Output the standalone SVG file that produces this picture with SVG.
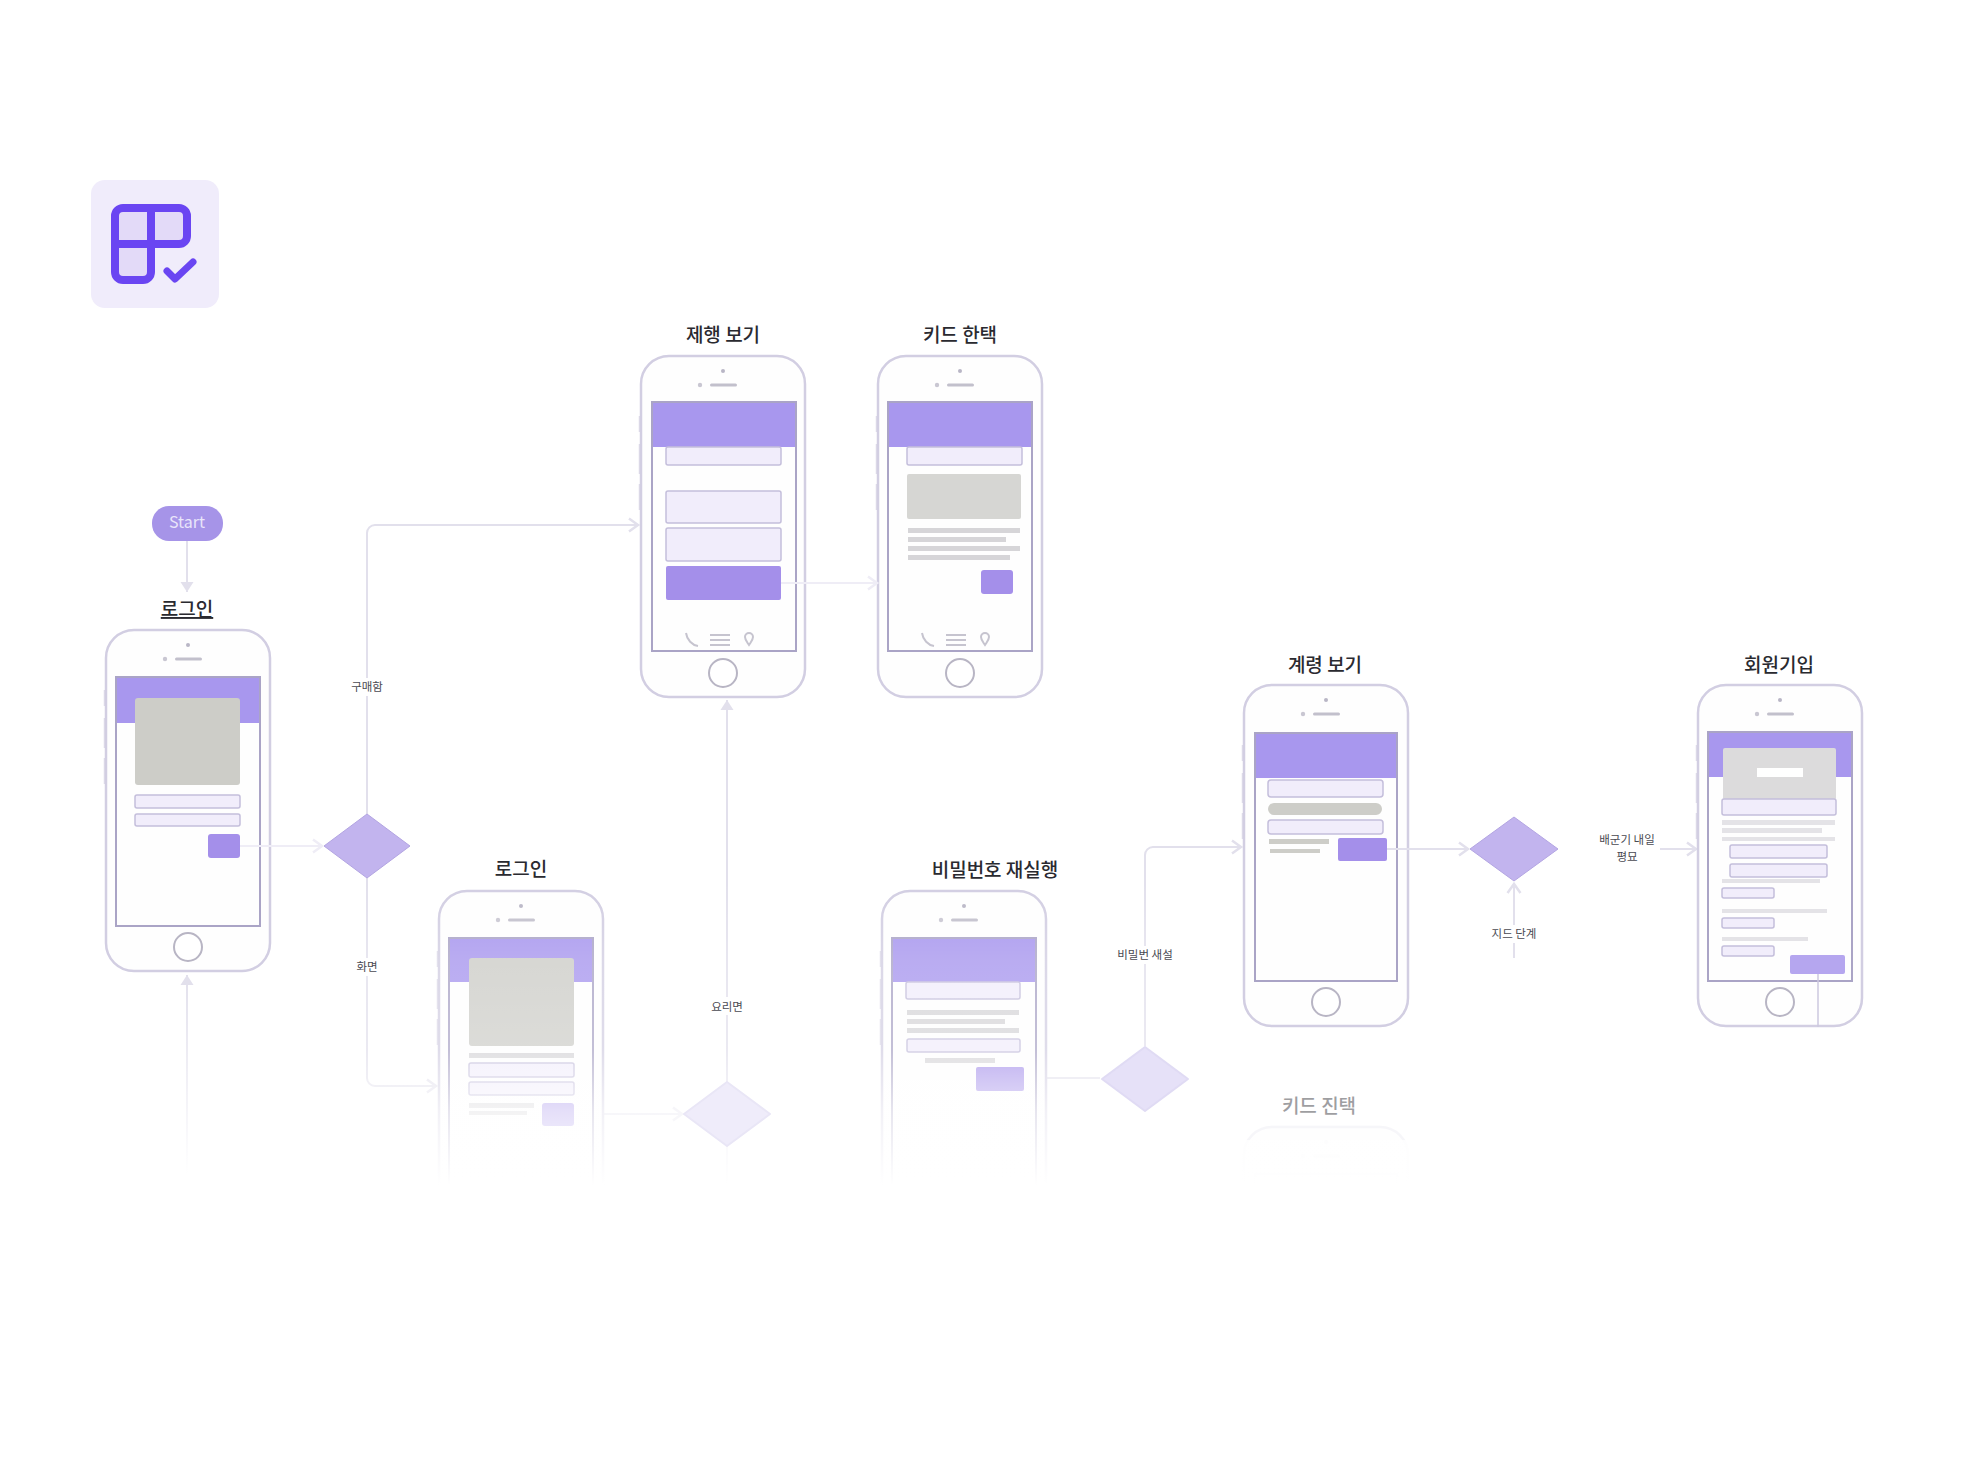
<svg xmlns="http://www.w3.org/2000/svg" width="1962" height="1470" viewBox="0 0 1962 1470">
<style>
text{font-family:"Noto Sans CJK KR","Noto Sans",sans-serif;text-anchor:middle}
.t{font-size:19px;font-weight:500;fill:#2a2a30}
.e{font-size:11.5px;fill:#4a4a52}
.c{fill:none;stroke:#e2e0ec;stroke-width:2}
.p{stroke:#efedf6}
.h{fill:#a897ee}
.f{fill:#f1edfb;stroke:#c4bedb;stroke-width:1.5}
.g{fill:#cdcdc8}
.l{fill:#d6d5d8}
.b{fill:#a48fea}
.s{fill:none;stroke:#aaa4c6;stroke-width:2}
.d{fill:#c2b4ee;stroke:#b3a5e2;stroke-width:1}
.ic{fill:none;stroke:#c6c4cf;stroke-width:2}
</style>
<defs>
<marker id="a" markerWidth="16" markerHeight="16" refX="12" refY="8" orient="auto" markerUnits="userSpaceOnUse"><path d="M3 1.5L12 8L3 14.5" fill="none" stroke="#e2e0ec" stroke-width="2.5"/></marker>
<marker id="ap" markerWidth="16" markerHeight="16" refX="12" refY="8" orient="auto" markerUnits="userSpaceOnUse"><path d="M3 1.5L12 8L3 14.5" fill="none" stroke="#efedf6" stroke-width="2.5"/></marker>
<marker id="at" markerWidth="16" markerHeight="16" refX="12" refY="8" orient="auto" markerUnits="userSpaceOnUse"><path d="M2 1.5L12 8L2 14.5Z" fill="#e2e0ec"/></marker>
<g id="phone">
<path d="M-1 60V76M-1 88V118M-1 128V154" stroke="#dedbe9" stroke-width="2.5" fill="none"/>
<rect x="0" y="0" width="164" height="341" rx="28" fill="#fefefe" stroke="#d2cee2" stroke-width="2.5"/>
<circle cx="82" cy="15" r="2" fill="#b9b6c6"/><circle cx="59" cy="29" r="2.2" fill="#c9c7d2"/>
<rect x="69" y="27.5" width="27" height="3" rx="1.5" fill="#c2c0cc"/>
<circle cx="82" cy="317" r="14" fill="#fff" stroke="#b8b5c4" stroke-width="2"/>
</g>
<g id="nav">
<path class="ic" d="M0 0C1 7 6 12 12 13M24 2H44M24 7H44M24 12H44"/>
<path class="ic" d="M59 4a4 4 0 1 1 8 0c0 3-2 5-4 8c-2-3-4-5-4-8z"/>
</g>
<clipPath id="cut"><rect x="1230" y="1100" width="200" height="90"/></clipPath>
<linearGradient id="fade" gradientUnits="userSpaceOnUse" x1="0" y1="880" x2="0" y2="1185">
<stop offset="0" stop-color="#fff" stop-opacity="0"/>
<stop offset=".26" stop-color="#fff" stop-opacity=".2"/>
<stop offset=".56" stop-color="#fff" stop-opacity=".3"/>
<stop offset=".76" stop-color="#fff" stop-opacity=".72"/>
<stop offset="1" stop-color="#fff" stop-opacity="1"/>
</linearGradient>
<linearGradient id="lf" gradientUnits="userSpaceOnUse" x1="0" y1="975" x2="0" y2="1175">
<stop offset="0" stop-color="#e2e0ec"/><stop offset="1" stop-color="#e2e0ec" stop-opacity="0"/>
</linearGradient>
</defs>
<rect width="1962" height="1470" fill="#fff"/>

<g id="logo">
<rect x="91" y="180" width="128" height="128" rx="14" fill="#f0ecfb"/>
<path d="M123 208H179a8 8 0 0 1 8 8V236a8 8 0 0 1-8 8H151V272a8 8 0 0 1-8 8H123a8 8 0 0 1-8-8V216a8 8 0 0 1 8-8z" fill="#e3daf8"/>
<path d="M123 208H179a8 8 0 0 1 8 8V236a8 8 0 0 1-8 8H115M151 208V272a8 8 0 0 1-8 8H123a8 8 0 0 1-8-8V216a8 8 0 0 1 8-8" fill="none" stroke="#6a45f2" stroke-width="8"/>
<path d="M167 271L175 279L193 262" fill="none" stroke="#6a45f2" stroke-width="7" stroke-linecap="round" stroke-linejoin="round"/>
</g>

<g id="connectors">
<path class="c" marker-end="url(#at)" d="M187 541V592" stroke-width="2.5"/>
<path class="c" marker-end="url(#a)" d="M367 814V533a8 8 0 0 1 8-8H638"/>
<path class="c" marker-end="url(#a)" d="M367 878V1078a8 8 0 0 0 8 8H436"/>
<path class="c" marker-end="url(#at)" d="M187 1175V975" style="stroke:url(#lf)"/>
<path class="c" marker-end="url(#a)" d="M604 1114H682"/>
<path class="c" marker-end="url(#at)" d="M727 1082V700"/>
<path class="c" d="M727 1146V1185"/>
<path class="c" d="M1046 1078H1100"/>
<path class="c" marker-end="url(#a)" d="M1145 1046V855a8 8 0 0 1 8-8H1241"/>
<path class="c" marker-end="url(#a)" d="M1514 958V884"/>
<path class="c" marker-end="url(#a)" d="M1660 849H1696"/>
</g>

<g id="start">
<rect x="152" y="506" width="71" height="35" rx="17" fill="#a694e8"/>
<text x="187" y="528" font-size="16" fill="#e9e5fa">Start</text>
</g>

<g id="n1-login">
<text class="t" x="187" y="616" text-decoration="underline">로그인</text>
<use href="#phone" x="106" y="630"/>
<rect class="h" x="116" y="677" width="144" height="46"/>
<rect class="s" x="116" y="677" width="144" height="249"/>
<rect class="g" x="135" y="698" width="105" height="87" rx="3"/>
<rect class="f" x="135" y="795" width="105" height="13" rx="2"/>
<rect class="f" x="135" y="814" width="105" height="12" rx="2"/>
<rect class="b" x="208" y="834" width="32" height="24" rx="3"/>
</g>

<g id="n2">
<text class="t" x="723" y="342">제행 보기</text>
<use href="#phone" x="641" y="356"/>
<rect class="h" x="652" y="402" width="144" height="45"/>
<rect class="s" x="652" y="402" width="144" height="249"/>
<rect class="f" x="666" y="447" width="115" height="18" rx="2"/>
<rect class="f" x="666" y="491" width="115" height="32" rx="2"/>
<rect class="f" x="666" y="528" width="115" height="33" rx="2"/>
<rect class="b" x="666" y="566" width="115" height="34" rx="2"/>
<use href="#nav" x="686" y="633"/>
</g>

<g id="n3">
<text class="t" x="960" y="342">키드 한택</text>
<use href="#phone" x="878" y="356"/>
<rect class="h" x="888" y="402" width="144" height="45"/>
<rect class="s" x="888" y="402" width="144" height="249"/>
<rect class="f" x="907" y="447" width="115" height="18" rx="2"/>
<rect fill="#d6d6d3" x="907" y="474" width="114" height="45" rx="2"/>
<rect class="l" x="908" y="528" width="112" height="5"/>
<rect class="l" x="908" y="537" width="98" height="5"/>
<rect class="l" x="908" y="546" width="112" height="5"/>
<rect class="l" x="908" y="555" width="102" height="5"/>
<rect class="b" x="981" y="570" width="32" height="24" rx="3"/>
<use href="#nav" x="922" y="633"/>
</g>

<g id="n4-login">
<text class="t" x="521" y="876">로그인</text>
<use href="#phone" x="439" y="891"/>
<rect class="h" x="449" y="938" width="144" height="44"/>
<rect class="s" x="449" y="938" width="144" height="249"/>
<rect class="g" x="469" y="958" width="105" height="88" rx="3"/>
<rect class="l" x="469" y="1053" width="105" height="5"/>
<rect class="f" x="469" y="1063" width="105" height="14" rx="2"/>
<rect class="f" x="469" y="1082" width="105" height="13" rx="2"/>
<rect class="l" x="469" y="1103" width="65" height="5"/>
<rect class="l" x="469" y="1111" width="58" height="4"/>
<rect class="b" x="542" y="1103" width="32" height="23" rx="3"/>
</g>

<g id="n5">
<text class="t" x="995" y="877">비밀번호 재실행</text>
<use href="#phone" x="882" y="891"/>
<rect class="h" x="892" y="938" width="144" height="44"/>
<rect class="s" x="892" y="938" width="144" height="249"/>
<rect class="f" x="906" y="982" width="114" height="17" rx="2"/>
<rect class="l" x="907" y="1010" width="112" height="5"/>
<rect class="l" x="907" y="1019" width="98" height="5"/>
<rect class="l" x="907" y="1028" width="112" height="5"/>
<rect class="f" x="907" y="1039" width="113" height="13" rx="2"/>
<rect class="l" x="925" y="1058" width="70" height="5"/>
<rect class="b" x="976" y="1067" width="48" height="24" rx="2"/>
</g>

<g id="n6">
<text class="t" x="1325" y="672">계령 보기</text>
<use href="#phone" x="1244" y="685"/>
<rect class="h" x="1255" y="733" width="142" height="45"/>
<rect class="s" x="1255" y="733" width="142" height="248"/>
<rect class="f" x="1268" y="780" width="115" height="17" rx="3"/>
<rect fill="#cdcdc8" x="1268" y="803" width="114" height="12" rx="6"/>
<rect class="f" x="1268" y="820" width="115" height="14" rx="3"/>
<rect class="g" x="1269" y="839" width="60" height="5"/>
<rect class="g" x="1270" y="849" width="50" height="4"/>
<rect class="b" x="1338" y="838" width="49" height="23" rx="2"/>
</g>

<g id="n7">
<text class="t" x="1779" y="672">회원기입</text>
<use href="#phone" x="1698" y="685"/>
<rect class="h" x="1708" y="732" width="144" height="45"/>
<rect class="s" x="1708" y="732" width="144" height="249"/>
<rect fill="#dcdbdc" x="1723" y="748" width="113" height="52" rx="2"/>
<rect fill="#fff" x="1757" y="768" width="46" height="9"/>
<rect class="f" x="1722" y="799" width="114" height="16" rx="2"/>
<rect fill="#e4e3e7" x="1722" y="820" width="113" height="5"/>
<rect fill="#e4e3e7" x="1722" y="828" width="100" height="5"/>
<rect fill="#e4e3e7" x="1722" y="837" width="113" height="4"/>
<rect class="f" x="1730" y="845" width="97" height="13" rx="2"/>
<rect class="f" x="1730" y="864" width="97" height="13" rx="2"/>
<rect fill="#e4e3e7" x="1722" y="879" width="98" height="4"/>
<rect class="f" x="1722" y="888" width="52" height="10" rx="2"/>
<rect fill="#e4e3e7" x="1722" y="909" width="105" height="4"/>
<rect class="f" x="1722" y="918" width="52" height="10" rx="2"/>
<rect fill="#e4e3e7" x="1722" y="937" width="86" height="4"/>
<rect class="f" x="1722" y="946" width="52" height="10" rx="2"/>
<rect fill="#b5a6ef" x="1790" y="955" width="55" height="19" rx="2"/>
<path d="M1818 974V1027" stroke="#cdc9df" stroke-width="1.5"/>
</g>

<g id="n8">
<text class="t" x="1319" y="1113" opacity=".45">키드 진택</text>
<g clip-path="url(#cut)" opacity=".18">
<use href="#phone" x="1244" y="1127"/>
<rect class="s" x="1255" y="1174" width="142" height="60"/>
</g>
</g>

<g id="decision1"><path class="d" d="M367 814L410 846L367 878L324 846Z"/></g>
<g id="decision4"><path class="d" d="M1514 817L1558 849L1514 881L1470 849Z"/></g>

<g id="fade-out">
<rect x="300" y="880" width="940" height="305" fill="url(#fade)"/>
<rect x="1240" y="1140" width="180" height="45" fill="url(#fade)"/>
<rect x="300" y="1185" width="1120" height="285" fill="#fff"/>
</g>

<g id="decision2"><path d="M727 1082L770 1114L727 1146L684 1114Z" fill="#efecfa" stroke="#e9e6f6" stroke-linejoin="round" stroke-width="2"/></g>
<g id="decision3"><path d="M1145 1047L1188 1079L1145 1111L1102 1079Z" fill="#e6e1f8" stroke="#e0dbf4" stroke-linejoin="round" stroke-width="2"/></g>

<g id="faint-connectors">
<path class="c p" marker-end="url(#ap)" d="M240 846H322"/>
<path class="c p" marker-end="url(#ap)" d="M781 583H877"/>
<path class="c" marker-end="url(#a)" d="M1387 849H1468" stroke-width="2.5"/>
</g>

<g id="edge-labels">
<rect x="347" y="678" width="40" height="18" fill="#fff"/>
<text class="e" x="367" y="691">구매함</text>
<rect x="347" y="958" width="40" height="18" fill="#fff"/>
<text class="e" x="367" y="971">화면</text>
<rect x="707" y="997" width="40" height="18" fill="#fff"/>
<text class="e" x="727" y="1011">요리면</text>
<rect x="1115" y="946" width="60" height="18" fill="#fff"/>
<text class="e" x="1145" y="959">비밀번 새설</text>
<rect x="1484" y="925" width="60" height="18" fill="#fff"/>
<text class="e" x="1514" y="938">지드 단계</text>
<text class="e" x="1627" y="844">배군기 내일</text>
<text class="e" x="1627" y="861">평묘</text>
</g>
</svg>
